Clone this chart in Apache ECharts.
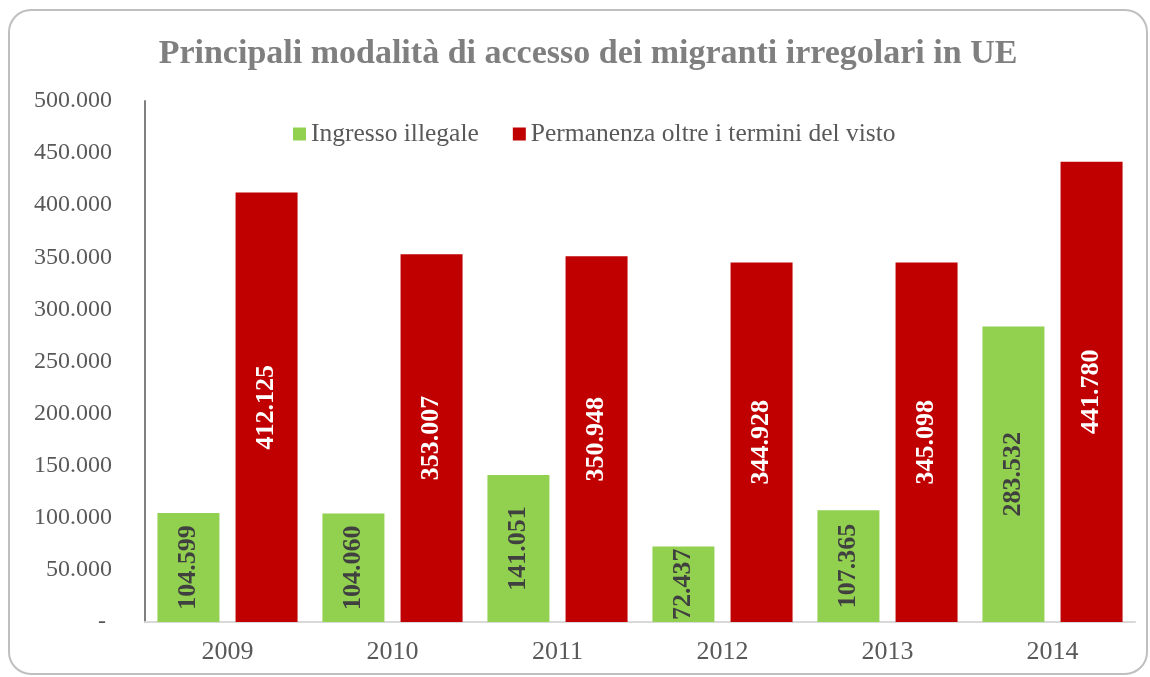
<!DOCTYPE html>
<html>
<head>
<meta charset="utf-8">
<script src="https://cdn.jsdelivr.net/npm/echarts@6/dist/echarts.min.js"></script>
<style>
  html, body { margin: 0; padding: 0; background: #fff; }
  #chart { width: 1150px; height: 677px; }
</style>
</head>
<body>
<div id="chart"></div>
<script>
const years = ['2009', '2010', '2011', '2012', '2013', '2014']
const ingressoIllegale = [104599, 104060, 141051, 72437, 107365, 283532]
const permanenzaOltre = [412125, 353007, 350948, 344928, 345098, 441780]

const FONT = '"Liberation Serif", "DejaVu Serif", serif'

function fmtIt(v) {
  if (v === 0) return '- '
  return String(v).replace(/\B(?=(\d{3})+(?!\d))/g, '.')
}

const chart = echarts.init(document.getElementById('chart'))

chart.setOption({
  backgroundColor: '#fff',
  animation: false,
  textStyle: { fontFamily: FONT },
  graphic: [
    {
      type: 'rect',
      shape: { x: 9, y: 10, width: 1138, height: 664, r: 22 },
      style: { fill: 'none', stroke: '#bfbfbf', lineWidth: 2 },
      silent: true
    }
  ],
  title: {
    text: 'Principali modalità di accesso dei migranti irregolari in UE',
    left: 583,
    textAlign: 'center',
    top: 32,
    textStyle: { color: '#7f7f7f', fontSize: 34, fontWeight: 'bold', fontFamily: FONT }
  },
  legend: {
    data: ['Ingresso illegale', 'Permanenza oltre i termini del visto'],
    top: 116,
    left: 288,
    itemWidth: 13,
    itemHeight: 13,
    itemGap: 34,
    icon: 'rect',
    textStyle: { color: '#595959', fontSize: 25.5, fontFamily: FONT }
  },
  grid: {
    left: 145,
    right: 15,
    top: 101,
    bottom: 55
  },
  xAxis: {
    type: 'category',
    data: years,
    axisLine: { lineStyle: { color: '#d9d9d9', width: 2 } },
    axisTick: { show: false },
    axisLabel: { color: '#595959', fontSize: 26, margin: 17, fontFamily: FONT }
  },
  yAxis: {
    type: 'value',
    min: 0,
    max: 500000,
    interval: 50000,
    axisLine: { show: true, lineStyle: { color: '#808080', width: 2 } },
    axisTick: { show: false },
    splitLine: { show: false },
    axisLabel: {
      color: '#595959',
      fontSize: 24,
      margin: 33,
      fontFamily: FONT,
      formatter: fmtIt
    }
  },
  series: [
    {
      name: 'Ingresso illegale',
      type: 'bar',
      data: ingressoIllegale,
      barWidth: 62,
      barGap: '26%',
      itemStyle: { color: '#92d050' },
      label: {
        show: true,
        position: 'inside',
        rotate: 90,
        color: '#404040',
        fontSize: 26,
        fontWeight: 'bold',
        fontFamily: FONT,
        formatter: p => fmtIt(p.value)
      }
    },
    {
      name: 'Permanenza oltre i termini del visto',
      type: 'bar',
      data: permanenzaOltre,
      barWidth: 62,
      barGap: '26%',
      itemStyle: { color: '#c00000' },
      label: {
        show: true,
        position: 'inside',
        rotate: 90,
        color: '#ffffff',
        fontSize: 26,
        fontWeight: 'bold',
        fontFamily: FONT,
        formatter: p => fmtIt(p.value)
      }
    }
  ]
})
</script>
</body>
</html>
